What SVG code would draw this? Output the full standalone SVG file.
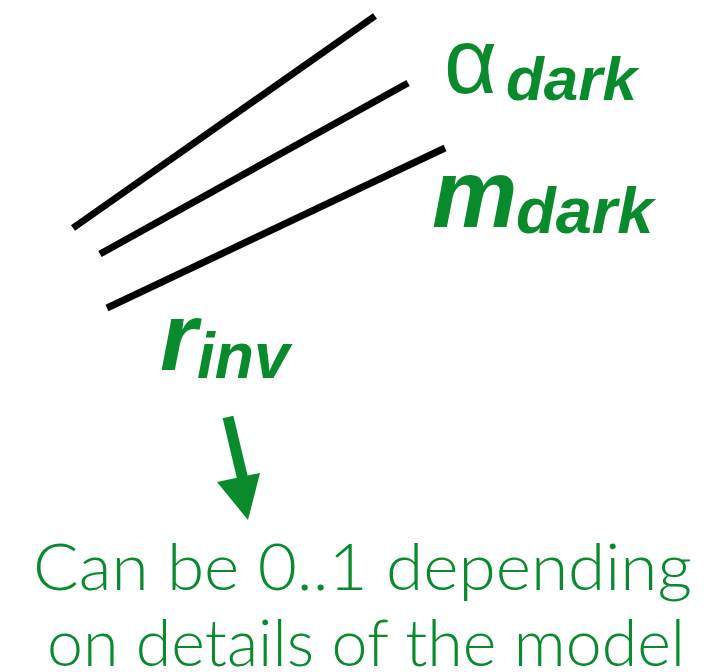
<svg xmlns="http://www.w3.org/2000/svg" width="704" height="672" viewBox="0 0 704 672">
<style>
.ln{stroke:#000;stroke-width:7;fill:none}
.g{fill:#088a2d}
.bi{font-family:"Liberation Sans",Arial,sans-serif;font-weight:bold;font-style:italic}
.al{font-family:"Liberation Sans",Arial,sans-serif;font-weight:normal}
.lt{font-family:Lato,"Liberation Sans",Arial,sans-serif;font-weight:300}
</style>
<rect width="704" height="672" fill="#fff"/>
<g id="lines">
<line class="ln" x1="73" y1="228" x2="375" y2="16"/>
<line class="ln" x1="100" y1="254" x2="408" y2="83"/>
<line class="ln" x1="107" y1="308" x2="445" y2="148"/>
</g>
<g id="alpha-dark">
<text class="g al" x="444" y="93" font-size="92">α</text>
<text class="g bi" x="506" y="100" font-size="62">dark</text>
</g>
<g id="m-dark">
<text class="g bi" x="432" y="227" font-size="96">m</text>
<text class="g bi" x="516" y="233" font-size="65">dark</text>
</g>
<g id="r-inv">
<text class="g bi" x="160" y="370" font-size="96">r</text>
<text class="g bi" x="197" y="378" font-size="64">inv</text>
</g>
<g id="arrow">
<line x1="228" y1="417" x2="243" y2="480" stroke="#088a2d" stroke-width="11"/>
<polygon class="g" points="217,482 260,473 248,520"/>
</g>
<g id="note">
<text class="g lt" x="33" y="590" font-size="65" textLength="659" lengthAdjust="spacingAndGlyphs">Can be 0..1 depending</text>
<text class="g lt" x="47" y="666" font-size="65" textLength="638" lengthAdjust="spacingAndGlyphs">on details of the model</text>
</g>
</svg>
